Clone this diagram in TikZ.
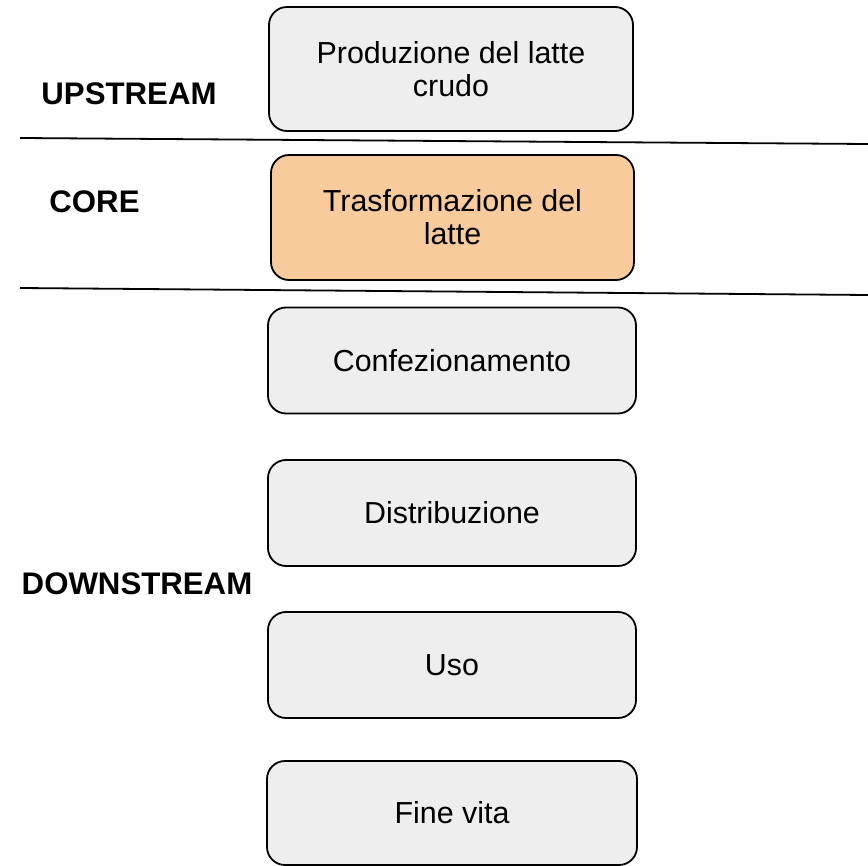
\documentclass[tikz,border=0pt]{standalone}
\usepackage{fontspec}
\setmainfont{Liberation Sans}
\definecolor{boxgray}{HTML}{EEEEEE}
\definecolor{coreorange}{HTML}{F8CB9C}
\tikzset{
    stage/.style = {draw, rounded corners=9pt, line width=0.9pt, fill=boxgray, align=center,
        minimum width=184pt, minimum height=53pt, font=\fontsize{15.2}{16.5}\selectfont},
    zone/.style = {font=\fontsize{15.6}{18}\selectfont\bfseries},
    divider/.style = {line width=0.9pt}
}

\begin{document}
\begin{tikzpicture}[x=0.5pt,y=-0.5pt]
    \useasboundingbox (0,0) rectangle (868,866);

    \node[stage, minimum width=182pt, minimum height=62pt] (prod) at (451,69) {Produzione del latte\\crudo};
    \node[stage, fill=coreorange, minimum width=181.5pt, minimum height=62.5pt] (trasf) at (452.5,217.5) {Trasformazione del\\latte};
    \node[stage] (conf) at (452,360.5) {Confezionamento};
    \node[stage] (distr) at (452,513) {Distribuzione};
    \node[stage] (uso) at (452,665) {Uso};
    \node[stage, minimum width=185pt, minimum height=52pt] (fine) at (452,813) {Fine vita};

    \node[zone] (up) at (129,94) {UPSTREAM};
    \node[zone] (core) at (94.5,202) {CORE};
    \node[zone] (down) at (137,584) {DOWNSTREAM};

    \coordinate(D1w) at (20,138);
    \coordinate(D1e) at (868,144);
    \coordinate(D2w) at (20,288);
    \coordinate(D2e) at (868,295);

    \draw [divider] (D1w)--(D1e);
    \draw [divider] (D2w)--(D2e);

\end{tikzpicture}
\end{document}
